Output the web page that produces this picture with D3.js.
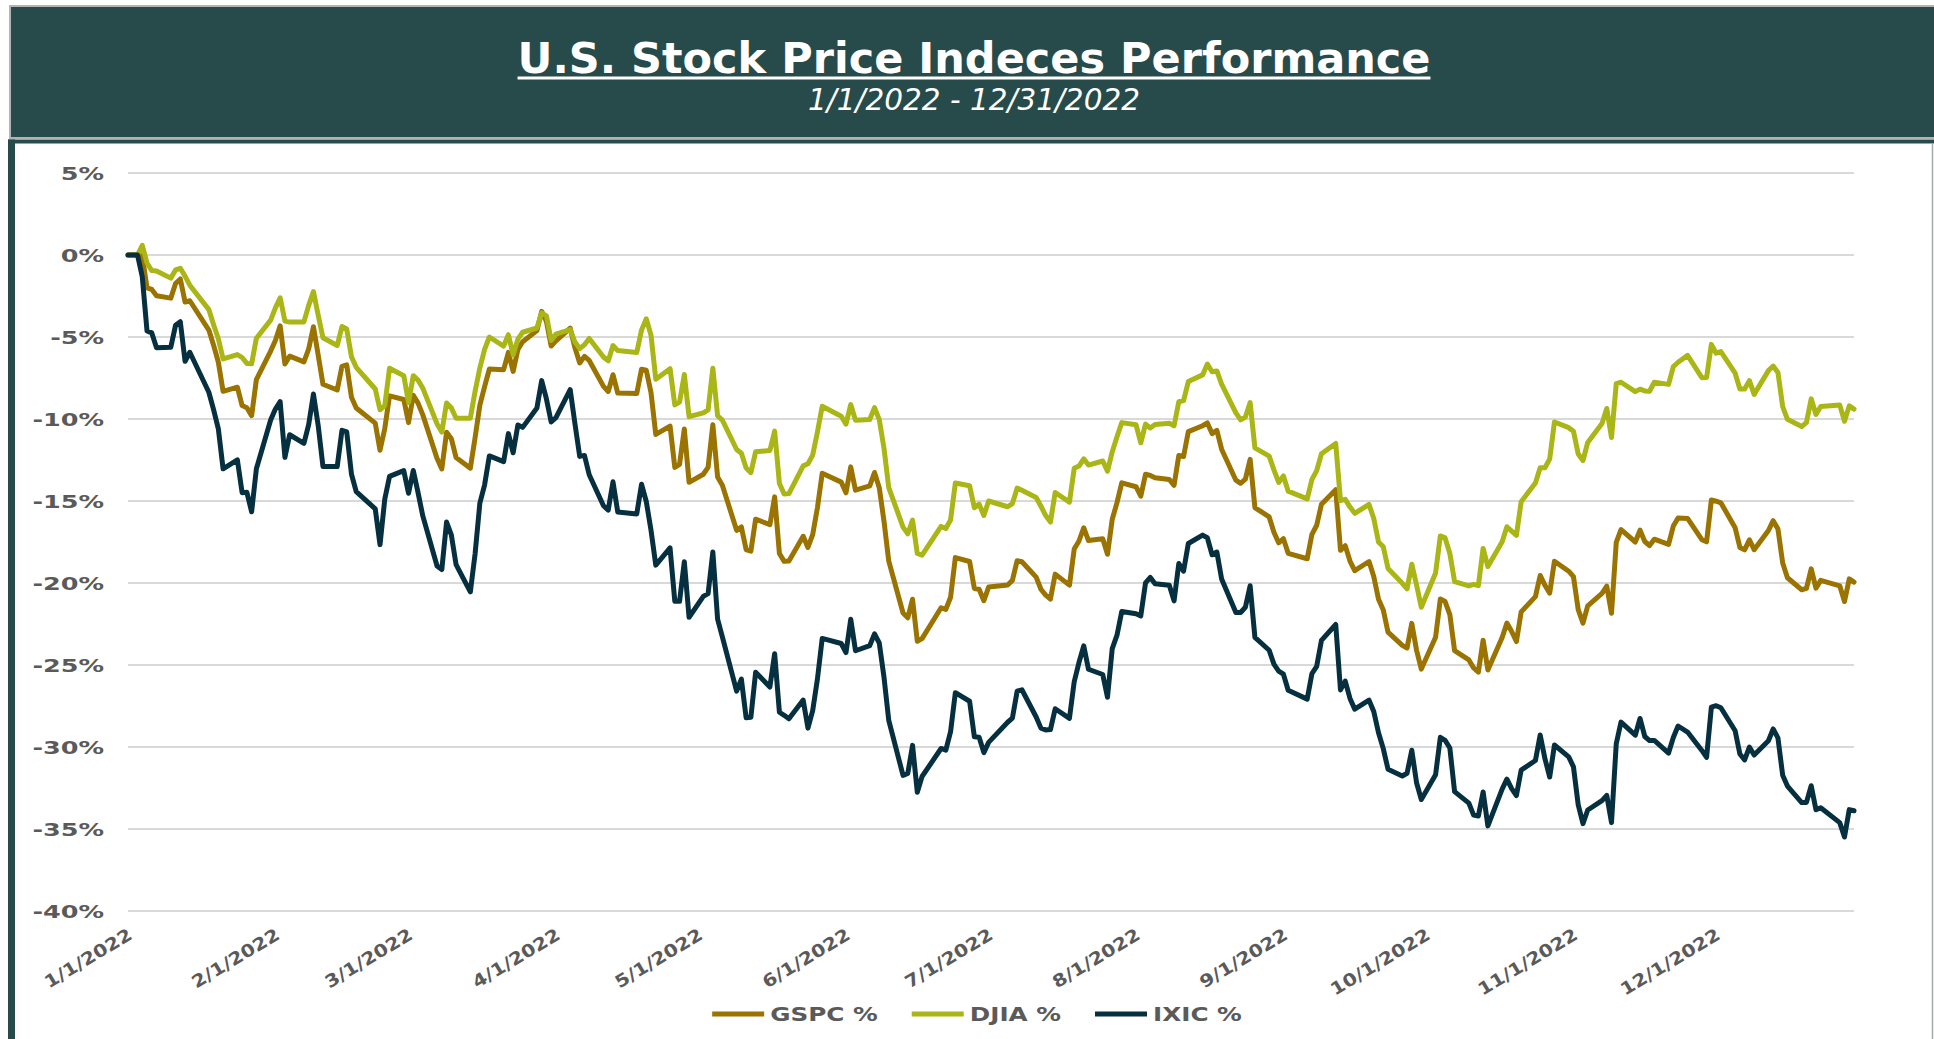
<!DOCTYPE html>
<html>
<head>
<meta charset="utf-8">
<title>U.S. Stock Price Indeces Performance</title>
<script src="https://cdn.jsdelivr.net/npm/d3@7"></script>
<style>
  html, body { margin: 0; padding: 0; background: #fff; }
  svg { display: block; font-family: "DejaVu Sans", Verdana, sans-serif; }
</style>
</head>
<body>
<div id="chart"></div>
<script>
// trading days of 2022 (m/d), first point is the 1/1 anchor at 0%
const dates = [
  "1/1","1/3","1/4","1/5","1/6","1/7","1/10","1/11","1/12","1/13","1/14","1/18","1/19","1/20","1/21","1/24","1/25","1/26","1/27","1/28","1/31",
  "2/1","2/2","2/3","2/4","2/7","2/8","2/9","2/10","2/11","2/14","2/15","2/16","2/17","2/18","2/22","2/23","2/24","2/25","2/28",
  "3/1","3/2","3/3","3/4","3/7","3/8","3/9","3/10","3/11","3/14","3/15","3/16","3/17","3/18","3/21","3/22","3/23","3/24","3/25","3/28","3/29","3/30","3/31",
  "4/1","4/4","4/5","4/6","4/7","4/8","4/11","4/12","4/13","4/14","4/18","4/19","4/20","4/21","4/22","4/25","4/26","4/27","4/28","4/29",
  "5/2","5/3","5/4","5/5","5/6","5/9","5/10","5/11","5/12","5/13","5/16","5/17","5/18","5/19","5/20","5/23","5/24","5/25","5/26","5/27","5/31",
  "6/1","6/2","6/3","6/6","6/7","6/8","6/9","6/10","6/13","6/14","6/15","6/16","6/17","6/21","6/22","6/23","6/24","6/27","6/28","6/29","6/30",
  "7/1","7/5","7/6","7/7","7/8","7/11","7/12","7/13","7/14","7/15","7/18","7/19","7/20","7/21","7/22","7/25","7/26","7/27","7/28","7/29",
  "8/1","8/2","8/3","8/4","8/5","8/8","8/9","8/10","8/11","8/12","8/15","8/16","8/17","8/18","8/19","8/22","8/23","8/24","8/25","8/26","8/29","8/30","8/31",
  "9/1","9/2","9/6","9/7","9/8","9/9","9/12","9/13","9/14","9/15","9/16","9/19","9/20","9/21","9/22","9/23","9/26","9/27","9/28","9/29","9/30",
  "10/3","10/4","10/5","10/6","10/7","10/10","10/11","10/12","10/13","10/14","10/17","10/18","10/19","10/20","10/21","10/24","10/25","10/26","10/27","10/28","10/31",
  "11/1","11/2","11/3","11/4","11/7","11/8","11/9","11/10","11/11","11/14","11/15","11/16","11/17","11/18","11/21","11/22","11/23","11/25","11/28","11/29","11/30",
  "12/1","12/2","12/5","12/6","12/7","12/8","12/9","12/12","12/13","12/14","12/15","12/16","12/19","12/20","12/21","12/22","12/23","12/27","12/28","12/29","12/30"
];

// % change, one row per month
const gspc = [
  0,0,-0.06,-2.00,-2.10,-2.49,-2.63,-1.74,-1.46,-2.87,-2.79,-4.58,-5.50,-6.54,-8.31,-8.06,-9.18,-9.31,-9.80,-7.60,-5.86,
  -5.21,-4.32,-6.65,-6.17,-6.52,-5.73,-4.37,-6.10,-7.88,-8.23,-6.79,-6.70,-8.68,-9.33,-10.25,-11.91,-10.59,-8.59,-8.81,
  -10.22,-8.55,-9.03,-9.75,-12.41,-13.05,-10.81,-11.20,-12.35,-13.00,-11.14,-9.15,-8.02,-6.95,-6.99,-5.94,-7.10,-5.76,-5.29,-4.61,-3.44,-4.05,-5.55,
  -5.23,-4.46,-5.66,-6.58,-6.18,-6.43,-8.01,-8.32,-7.30,-8.42,-8.44,-6.97,-7.03,-8.40,-10.94,-10.43,-12.95,-12.77,-10.61,-13.86,
  -13.37,-12.95,-10.35,-13.54,-14.04,-16.79,-16.58,-17.96,-18.06,-16.11,-16.44,-14.75,-18.20,-18.68,-18.66,-17.15,-17.83,-17.05,-15.40,-13.31,-13.85,
  -14.50,-12.92,-14.34,-14.08,-13.26,-14.19,-16.24,-18.67,-21.83,-22.12,-20.99,-23.55,-23.39,-21.51,-21.61,-20.87,-18.45,-18.69,-20.33,-20.38,-21.08,
  -20.25,-20.12,-19.84,-18.64,-18.70,-19.64,-20.38,-20.74,-20.98,-19.46,-20.13,-17.93,-17.44,-16.63,-17.41,-17.30,-18.25,-16.11,-15.10,-13.89,
  -14.13,-14.71,-13.37,-13.44,-13.58,-13.69,-14.05,-12.22,-12.29,-10.77,-10.41,-10.24,-10.89,-10.69,-11.84,-13.73,-13.92,-13.67,-12.46,-15.40,-15.97,-16.90,-17.55,
  -17.30,-18.19,-18.52,-17.03,-16.48,-15.20,-14.31,-18.01,-17.73,-18.66,-19.25,-18.69,-19.61,-20.99,-21.65,-23.00,-23.80,-23.96,-22.46,-24.10,-25.25,
  -23.31,-20.97,-21.13,-21.93,-24.12,-24.69,-25.18,-25.43,-23.49,-25.30,-23.32,-22.44,-22.96,-23.57,-21.76,-20.83,-19.54,-20.14,-20.62,-18.67,-19.28,
  -19.61,-21.62,-22.45,-21.39,-20.63,-20.19,-21.85,-17.52,-16.75,-17.50,-16.78,-17.47,-17.72,-17.33,-17.65,-16.53,-16.04,-16.06,-17.36,-17.49,-14.94,
  -15.01,-15.11,-16.63,-17.83,-17.98,-17.37,-17.97,-16.80,-16.20,-16.70,-18.78,-19.68,-20.41,-20.33,-19.14,-20.31,-19.84,-20.17,-21.13,-19.75,-19.95
];

const djia = [
  0,0,0.59,-0.49,-0.95,-0.97,-1.41,-0.91,-0.81,-1.29,-1.84,-3.33,-4.25,-5.11,-6.34,-6.07,-6.25,-6.61,-6.63,-5.08,-3.97,
  -3.22,-2.61,-4.03,-4.09,-4.08,-3.07,-2.23,-3.67,-5.05,-5.52,-4.36,-4.51,-6.21,-6.85,-8.17,-9.44,-9.19,-6.91,-7.36,
  -8.99,-7.36,-7.63,-8.12,-10.30,-10.80,-9.02,-9.32,-9.95,-9.95,-8.31,-6.89,-5.75,-5.00,-5.55,-4.86,-6.09,-5.13,-4.71,-4.45,-3.53,-3.71,-5.21,
  -4.83,-4.55,-5.31,-5.71,-5.47,-5.09,-6.22,-6.46,-5.52,-5.83,-5.94,-4.58,-3.89,-4.90,-7.58,-6.93,-9.14,-8.97,-7.29,-9.86,
  -9.63,-9.45,-6.90,-9.80,-10.07,-11.86,-12.09,-12.99,-13.27,-12.00,-11.92,-10.74,-13.93,-14.57,-14.55,-12.86,-12.73,-12.20,-10.79,-9.22,-9.83,
  -10.31,-9.12,-10.07,-10.03,-9.31,-10.04,-11.79,-14.19,-16.59,-17.00,-16.17,-18.20,-18.30,-16.55,-16.68,-16.15,-13.90,-14.07,-15.41,-15.19,-15.88,
  -15.00,-15.35,-15.16,-14.21,-14.34,-14.79,-15.32,-15.89,-16.28,-14.48,-15.07,-13.01,-12.87,-12.43,-12.81,-12.56,-13.18,-11.99,-11.08,-10.22,
  -10.35,-11.45,-10.31,-10.55,-10.34,-10.26,-10.42,-8.95,-8.88,-7.72,-7.31,-6.65,-7.12,-7.07,-7.87,-9.63,-10.05,-9.88,-9.00,-11.76,-12.26,-13.10,-13.87,
  -13.47,-14.40,-14.87,-13.68,-13.15,-12.12,-11.49,-14.98,-14.90,-15.37,-15.75,-15.21,-16.07,-17.50,-17.79,-19.12,-20.02,-20.36,-18.86,-20.12,-21.48,
  -19.39,-17.13,-17.25,-18.20,-19.92,-20.18,-20.08,-20.16,-17.89,-19.00,-17.49,-16.57,-16.84,-17.09,-15.04,-13.90,-12.98,-12.97,-12.44,-10.18,-10.53,
  -10.75,-12.13,-12.53,-11.43,-10.27,-9.36,-11.13,-7.84,-7.76,-8.33,-8.18,-8.29,-8.31,-7.76,-7.89,-6.80,-6.54,-6.12,-7.48,-7.47,-5.45,
  -5.99,-5.89,-7.21,-8.17,-8.17,-7.66,-8.50,-7.05,-6.77,-7.16,-9.25,-10.02,-10.46,-10.21,-8.77,-9.72,-9.24,-9.14,-10.14,-9.20,-9.40
];

const ixic = [
  0,0,-1.33,-4.63,-4.75,-5.66,-5.62,-4.29,-4.07,-6.48,-5.93,-8.37,-9.43,-10.60,-13.04,-12.49,-14.49,-14.47,-15.66,-13.03,-10.06,
  -9.39,-8.94,-12.34,-10.96,-11.48,-10.35,-8.48,-10.40,-12.90,-12.90,-10.69,-10.79,-13.37,-14.43,-15.48,-17.66,-14.90,-13.50,-13.15,
  -14.53,-13.14,-14.49,-15.91,-18.96,-19.18,-16.28,-17.07,-18.88,-20.54,-18.22,-15.13,-14.01,-12.25,-12.60,-10.89,-12.06,-10.36,-10.51,-9.33,-7.66,-8.78,-10.18,
  -9.92,-8.21,-10.29,-12.28,-12.22,-13.40,-15.29,-15.55,-13.83,-15.67,-15.79,-13.98,-15.03,-16.79,-18.91,-17.86,-21.11,-21.12,-18.70,-22.09,
  -20.82,-20.65,-18.11,-22.20,-23.29,-26.59,-25.86,-28.22,-28.18,-25.44,-26.34,-24.31,-27.88,-28.07,-28.28,-27.14,-28.85,-27.78,-25.85,-23.38,-23.69,
  -24.24,-22.21,-24.13,-23.82,-23.10,-23.66,-25.76,-28.38,-31.73,-31.61,-29.90,-32.76,-31.80,-30.09,-30.19,-29.06,-26.69,-27.21,-29.38,-29.40,-30.34,
  -29.72,-28.49,-28.24,-26.60,-26.51,-28.17,-28.85,-28.96,-28.94,-27.67,-28.25,-26.02,-24.85,-23.83,-25.26,-25.58,-26.97,-24.00,-23.18,-21.74,
  -21.88,-22.01,-19.99,-19.66,-20.05,-20.14,-21.09,-18.81,-19.28,-17.59,-17.08,-17.24,-18.28,-18.11,-19.75,-21.80,-21.80,-21.48,-20.17,-23.31,-24.10,-24.95,-25.37,
  -25.56,-26.54,-27.08,-25.52,-25.08,-23.50,-22.53,-26.52,-25.98,-27.04,-27.69,-27.14,-27.84,-29.13,-30.10,-31.36,-31.77,-31.60,-30.20,-32.18,-33.20,
  -31.69,-29.41,-29.59,-30.06,-32.72,-33.42,-34.15,-34.21,-32.74,-34.81,-32.57,-31.96,-32.54,-32.96,-31.41,-30.82,-29.27,-30.71,-31.83,-29.88,-30.60,
  -31.21,-33.53,-34.67,-33.84,-33.27,-32.95,-34.61,-29.80,-28.48,-29.28,-28.26,-29.36,-29.61,-29.60,-30.37,-29.42,-28.72,-29.09,-30.21,-30.63,-27.57,
  -27.48,-27.61,-29.01,-30.43,-30.79,-30.01,-30.49,-29.62,-28.90,-29.44,-31.72,-32.38,-33.39,-33.38,-32.36,-33.83,-33.70,-34.61,-35.49,-33.82,-33.89
];

const seriesNames = ["GSPC %", "DJIA %", "IXIC %"];
const yTicks = [5, 0, -5, -10, -15, -20, -25, -30, -35, -40];
const monthTicks = ["1/1","2/1","3/1","4/1","5/1","6/1","7/1","8/1","9/1","10/1","11/1","12/1"];

const titleText = "U.S. Stock Price Indeces Performance";
const subtitleText = "1/1/2022 - 12/31/2022";

// colours
const seriesColors = ["#9a7300", "#aab516", "#06303f"];
const headerColor = "#274a4b";
const labelColor = "#5a5a5a";

(function() {
  const W = 1934, H = 1039;
  const plot = { left: 128, right: 1854, top: 173, bottom: 911 };

  const toDate = s => {
    const [m, d] = s.split("/").map(Number);
    return new Date(2022, m - 1, d);
  };
  const fmtDate = d => `${d.getMonth() + 1}/${d.getDate()}/${d.getFullYear()}`;

  if (gspc.length !== dates.length || djia.length !== dates.length || ixic.length !== dates.length) {
    console.warn("length mismatch", dates.length, gspc.length, djia.length, ixic.length);
  }

  const dateObjs = dates.map(toDate);
  const series = [gspc, djia, ixic].map((vals, i) => ({
    name: seriesNames[i],
    color: seriesColors[i],
    values: vals.map((v, j) => ({ date: dateObjs[j], v: v }))
  }));

  const svg = d3.select("#chart").append("svg")
    .attr("width", W)
    .attr("height", H);

  // header band
  svg.append("rect")
    .attr("x", 10).attr("y", 6)
    .attr("width", W).attr("height", 132)
    .attr("fill", headerColor)
    .attr("stroke", "#b3b3b3")
    .attr("stroke-width", 2);

  // chart frame: dark top strip + left bar, thin grey right edge
  svg.append("rect")
    .attr("x", 8).attr("y", 139.5)
    .attr("width", W - 8).attr("height", 4)
    .attr("fill", headerColor);
  svg.append("rect")
    .attr("x", 8).attr("y", 139.5)
    .attr("width", 7).attr("height", H - 139)
    .attr("fill", headerColor);
  svg.append("line")
    .attr("x1", 1932.5).attr("x2", 1932.5)
    .attr("y1", 143).attr("y2", H)
    .attr("stroke", "#a3abab")
    .attr("stroke-width", 1.5);

  // title + underline
  const title = svg.append("text")
    .attr("x", 974).attr("y", 73)
    .attr("text-anchor", "middle")
    .attr("fill", "#fff")
    .style("font-size", "43px")
    .style("font-weight", "bold")
    .text(titleText);
  const tb = title.node().getBBox();
  svg.append("rect")
    .attr("x", tb.x).attr("y", 76.5)
    .attr("width", tb.width).attr("height", 3)
    .attr("fill", "#fff");

  svg.append("text")
    .attr("x", 974).attr("y", 110)
    .attr("text-anchor", "middle")
    .attr("fill", "#fff")
    .style("font-size", "29.5px")
    .style("font-style", "italic")
    .text(subtitleText);

  // scales
  const x = d3.scaleTime()
    .domain([new Date(2022, 0, 1), new Date(2022, 11, 30)])
    .range([plot.left, plot.right]);

  const y = d3.scaleLinear()
    .domain([-40, 5])
    .range([plot.bottom, plot.top]);

  // gridlines
  svg.append("g")
    .selectAll("line")
    .data(yTicks)
    .enter()
    .append("line")
    .attr("x1", plot.left)
    .attr("x2", plot.right)
    .attr("y1", d => y(d))
    .attr("y2", d => y(d))
    .attr("stroke", "#d9d9d9")
    .attr("stroke-width", 2);

  // y axis labels (wide bold face, like the original)
  const yAxis = svg.append("g")
    .attr("transform", `translate(${plot.left},0)`)
    .call(d3.axisLeft(y).tickValues(yTicks).tickFormat(d => d + "%").tickSize(0));
  yAxis.select(".domain").remove();
  yAxis.selectAll("text")
    .attr("x", null)
    .attr("dy", "0.36em")
    .attr("transform", "translate(-24,0) scale(1.5,1)")
    .attr("fill", labelColor)
    .style("font-family", "'DejaVu Sans', sans-serif")
    .style("font-size", "17px")
    .style("font-weight", "bold");

  // x axis labels, rotated
  const xAxis = svg.append("g")
    .attr("transform", `translate(0,${plot.bottom})`)
    .call(d3.axisBottom(x).tickValues(monthTicks.map(toDate)).tickFormat(fmtDate).tickSize(0));
  xAxis.select(".domain").remove();
  xAxis.selectAll("text")
    .attr("x", null)
    .attr("y", null)
    .attr("dy", null)
    .attr("text-anchor", "end")
    .attr("transform", "translate(5,27) rotate(-31) scale(1.15,1)")
    .attr("fill", labelColor)
    .style("font-family", "'DejaVu Sans', sans-serif")
    .style("font-size", "17.5px")
    .style("font-weight", "bold");

  // lines
  const line = d3.line()
    .x(d => x(d.date))
    .y(d => y(d.v));

  svg.append("g")
    .selectAll("path")
    .data(series)
    .enter()
    .append("path")
    .attr("d", d => line(d.values))
    .attr("fill", "none")
    .attr("stroke", d => d.color)
    .attr("stroke-width", 5)
    .attr("stroke-linejoin", "round")
    .attr("stroke-linecap", "round");

  // legend
  const legend = svg.append("g");
  let cx = 0;
  series.forEach(s => {
    const item = legend.append("g").attr("transform", `translate(${cx},0)`);
    item.append("line")
      .attr("x1", 0).attr("x2", 52)
      .attr("y1", 0).attr("y2", 0)
      .attr("stroke", s.color)
      .attr("stroke-width", 5);
    const t = item.append("text")
      .attr("dy", "0.36em")
      .attr("transform", "translate(58,0) scale(1.3,1)")
      .attr("fill", labelColor)
      .style("font-size", "19px")
      .style("font-weight", "bold")
      .text(s.name);
    cx += 58 + t.node().getComputedTextLength() * 1.3 + 34;
  });
  const legendWidth = cx - 34;
  legend.attr("transform", `translate(${977 - legendWidth / 2},1014)`);
})();
</script>
</body>
</html>
